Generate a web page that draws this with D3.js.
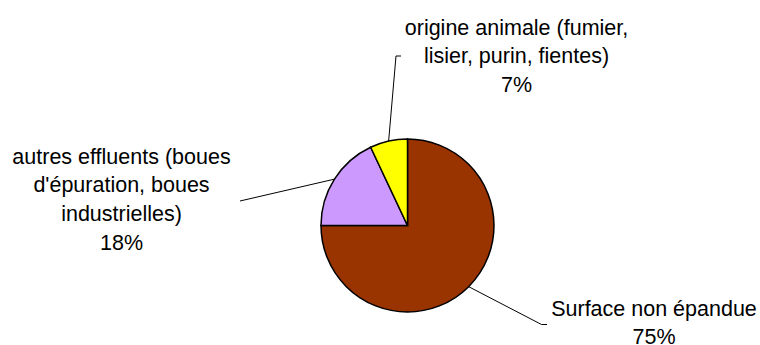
<!DOCTYPE html>
<meta charset="utf-8">
<style type="text/css">
body { margin: 0; background: #fff; }
.slice { stroke: #000; stroke-width: 1.5; }
.leader { fill: none; stroke: #000; stroke-width: 1; }
.label { font-family: "Liberation Sans", Arial, sans-serif; font-size: 21.5px; fill: #000; }
</style>
<body>
<div id="chart"></div>
<script src="https://d3js.org/d3.v7.min.js"></script>
<script>
// slice data, clockwise from 12 o'clock
var categories = ["Surface non épandue",
                  "autres effluents (boues d'épuration, boues industrielles)",
                  "origine animale (fumier, lisier, purin, fientes)"];
var values = [75, 18, 7];
var labelLines = [
  ["Surface non épandue", "75%"],
  ["autres effluents (boues", "d'épuration, boues", "industrielles)", "18%"],
  ["origine animale (fumier,", "lisier, purin, fientes)", "7%"]
];
var colors = ["#993300", "#CC99FF", "#FFFF00"];

var width = 760, height = 345;
var cx = 407.5, cy = 225.5, radius = 86.5;

// where each label sits (centre x, first baseline, line step) and the leader's bend
var layout = [
  {x: 654, y: 316, step: 27.8, bend: [541.5, 324.5], end: [547, 324.5]},
  {x: 121.5, y: 163.5, step: 28.8, bend: [240, 201], end: [240, 201]},
  {x: 516.5, y: 34.5, step: 28.8, bend: [396, 56], end: [401, 56]}
];

var svg = d3.select("#chart").append("svg")
    .attr("width", width)
    .attr("height", height);

var pie = d3.pie().sort(null).value(function(d) { return d; });
var arcs = pie(values);
var arc = d3.arc().innerRadius(0).outerRadius(radius);

var g = svg.append("g").attr("transform", "translate(" + cx + "," + cy + ")");

g.selectAll(".slice")
    .data(arcs)
  .enter().append("path")
    .attr("class", "slice")
    .attr("fill", function(d, i) { return colors[i]; })
    .attr("d", arc);

// leader lines from the slice edge out to the label
svg.selectAll(".leader")
    .data(arcs)
  .enter().append("polyline")
    .attr("class", "leader")
    .attr("points", function(d, i) {
      var a = (d.startAngle + d.endAngle) / 2;
      var sx = cx + radius * Math.sin(a), sy = cy - radius * Math.cos(a);
      var L = layout[i];
      return [[sx, sy], L.bend, L.end].map(function(p) { return p.join(","); }).join(" ");
    });

var labels = svg.selectAll(".label")
    .data(labelLines)
  .enter().append("text")
    .attr("class", "label")
    .attr("text-anchor", "middle")
    .attr("x", function(d, i) { return layout[i].x; })
    .attr("y", function(d, i) { return layout[i].y; });

labels.each(function(lines, i) {
  d3.select(this).selectAll("tspan")
      .data(lines)
    .enter().append("tspan")
      .attr("x", layout[i].x)
      .attr("dy", function(d, j) { return j === 0 ? 0 : layout[i].step; })
      .text(function(d) { return d; });
});
</script>
</body>
